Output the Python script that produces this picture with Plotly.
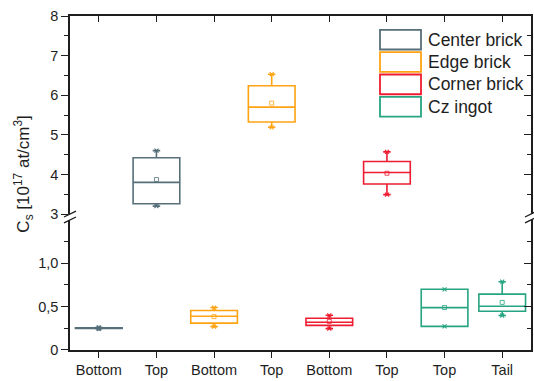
import plotly.graph_objects as go

# ---------------- data ----------------
positions = [1, 2, 3, 4, 5, 6, 7, 8]
x_labels = ["Bottom", "Top", "Bottom", "Top", "Bottom", "Top", "Top", "Tail"]

series_names = ["Center brick", "Edge brick", "Corner brick", "Cz ingot"]
series_colors = ["#566f79", "#ffa312", "#ee1c30", "#27a482"]

center_x = [1, 2]
center_min = [0.245, 3.20]
center_q1 = [0.248, 3.26]
center_med = [0.252, 3.80]
center_q3 = [0.256, 4.42]
center_max = [0.260, 4.60]
center_mean = [0.250, 3.87]

edge_x = [3, 4]
edge_min = [0.27, 5.19]
edge_q1 = [0.31, 5.325]
edge_med = [0.39, 5.70]
edge_q3 = [0.455, 6.24]
edge_max = [0.49, 6.53]
edge_mean = [0.385, 5.80]

corner_x = [5, 6]
corner_min = [0.246, 3.49]
corner_q1 = [0.284, 3.76]
corner_med = [0.32, 4.05]
corner_q3 = [0.367, 4.325]
corner_max = [0.40, 4.57]
corner_mean = [0.33, 4.03]

cz_x = [7, 8]
cz_min = [0.273, 0.398]
cz_q1 = [0.273, 0.447]
cz_med = [0.489, 0.504]
cz_q3 = [0.700, 0.644]
cz_max = [0.700, 0.788]
cz_mean = [0.490, 0.549]

low_ticks = [0, 0.5, 1.0]
low_ticktext = ["0", "0,5", "1,0"]
low_minor = [0.25, 0.75, 1.25]
high_ticks = [3, 4, 5, 6, 7, 8]
high_ticktext = ["3", "4", "5", "6", "7", "8"]
high_minor = [3.5, 4.5, 5.5, 6.5, 7.5]

# ---------------- figure ----------------
FONT = "Liberation Sans, Arial, sans-serif"
TXT = "#1e1e1e"
AX = "#1e1e1e"
BREAK = 3.0

groups = [
    (center_x, center_min, center_q1, center_med, center_q3, center_max, center_mean),
    (edge_x, edge_min, edge_q1, edge_med, edge_q3, edge_max, edge_mean),
    (corner_x, corner_min, corner_q1, corner_med, corner_q3, corner_max, corner_mean),
    (cz_x, cz_min, cz_q1, cz_med, cz_q3, cz_max, cz_mean),
]

fig = go.Figure()
for (xs, mn, q1, md, q3, mx, mean), color in zip(groups, series_colors):
    for i in range(len(xs)):
        ax = "y2" if q1[i] >= BREAK else "y"
        fig.add_trace(go.Box(
            x=[xs[i]], q1=[q1[i]], median=[md[i]], q3=[q3[i]],
            lowerfence=[mn[i]], upperfence=[mx[i]],
            width=0.81, whiskerwidth=0.16,
            line=dict(color=color, width=1.6),
            fillcolor="rgba(0,0,0,0)", boxpoints=False,
            showlegend=False, hoverinfo="skip", yaxis=ax,
        ))
        fig.add_trace(go.Scatter(
            x=[xs[i]], y=[mean[i]], mode="markers",
            marker=dict(symbol="square-open", size=4, color=color,
                        line=dict(width=0.8, color=color)),
            showlegend=False, hoverinfo="skip", yaxis=ax,
        ))
        fig.add_trace(go.Scatter(
            x=[xs[i], xs[i]], y=[mn[i], mx[i]], mode="markers",
            marker=dict(symbol="x-thin", size=4, color=color,
                        line=dict(width=1.1, color=color)),
            showlegend=False, hoverinfo="skip", yaxis=ax,
        ))

# plot area geometry (pixels)
W, H = 534, 381
L, R, T, B = 70, 3, 16, 26
pw, ph = W - L - R, H - T - B
bot_top_px = 223   # top of lower section
top_bot_px = 217   # bottom of upper section
low_dom = [0, (H - B - bot_top_px) / ph]
high_dom = [(H - B - top_bot_px) / ph, 1]

common_y = dict(showline=True, linecolor=AX, linewidth=1.5, showgrid=False,
                zeroline=False, tickfont=dict(family=FONT, size=14.5, color=TXT),
                tickcolor=AX, tickwidth=1.3)

fig.update_layout(
    width=W, height=H,
    margin=dict(l=L, r=R, t=T, b=B),
    paper_bgcolor="white", plot_bgcolor="white",
    showlegend=False,
    xaxis=dict(range=[0.5, 8.5], tickvals=positions, ticktext=x_labels,
               showline=True, linecolor=AX, linewidth=1.5, showgrid=False,
               zeroline=False, ticks="outside", ticklen=6, tickcolor=AX, tickwidth=1.3,
               tickfont=dict(family=FONT, size=14.5, color=TXT), anchor="y"),
    xaxis2=dict(range=[0.5, 8.5], tickvals=positions, overlaying="x", side="top",
                anchor="y2", showline=True, linecolor=AX, linewidth=1.5,
                showgrid=False, zeroline=False, ticks="inside", ticklen=6,
                tickcolor=AX, tickwidth=1.3, showticklabels=False),
    yaxis=dict(domain=low_dom, range=[0, 1.5], tickvals=low_ticks, ticktext=low_ticktext,
               ticks="outside", ticklen=7,
               minor=dict(tickvals=low_minor, ticks="outside", ticklen=4,
                          tickcolor=AX, tickwidth=1.3),
               anchor="x", **common_y),
    yaxis2=dict(domain=high_dom, range=[3, 8], tickvals=high_ticks, ticktext=high_ticktext,
                ticks="outside", ticklen=7,
                minor=dict(tickvals=high_minor, ticks="outside", ticklen=4,
                           tickcolor=AX, tickwidth=1.3),
                anchor="x", **common_y),
    yaxis3=dict(overlaying="y2", side="right", anchor="x", range=[3, 8],
                tickvals=high_ticks, ticks="inside", ticklen=7, showticklabels=False,
                minor=dict(tickvals=high_minor, ticks="inside", ticklen=4,
                           tickcolor=AX, tickwidth=1.3),
                showline=True, linecolor=AX, linewidth=1.5, showgrid=False,
                zeroline=False, tickcolor=AX, tickwidth=1.3),
    yaxis4=dict(overlaying="y", side="right", anchor="x", range=[0, 1.5],
                tickvals=low_ticks, ticks="inside", ticklen=7, showticklabels=False,
                minor=dict(tickvals=low_minor, ticks="inside", ticklen=4,
                           tickcolor=AX, tickwidth=1.3),
                showline=True, linecolor=AX, linewidth=1.5, showgrid=False,
                zeroline=False, tickcolor=AX, tickwidth=1.3),
)

# dummy traces so overlay axes are drawn
fig.add_trace(go.Scatter(x=[None], y=[None], xaxis="x2", yaxis="y3",
                         showlegend=False, hoverinfo="skip"))
fig.add_trace(go.Scatter(x=[None], y=[None], xaxis="x", yaxis="y4",
                         showlegend=False, hoverinfo="skip"))


def px2paper(x, y):
    return (x - L) / pw, (H - B - y) / ph


# axis break marks
for bx in (L, W - R):
    for dy in (0, 6):
        x0, y0 = px2paper(bx - 6, 220 + dy)
        x1, y1 = px2paper(bx + 6, 214 + dy)
        fig.add_shape(type="line", xref="paper", yref="paper",
                      x0=x0, y0=y0, x1=x1, y1=y1,
                      line=dict(color=AX, width=1.3))

# y axis title
tx, ty = px2paper(24, 177)
fig.add_annotation(xref="paper", yref="paper", x=tx, y=ty, textangle=-90,
                   text="C<sub>s</sub> [10<sup>17</sup> at/cm<sup>3</sup>]",
                   showarrow=False, xanchor="center", yanchor="middle",
                   font=dict(family=FONT, size=17, color=TXT))

# legend (open rectangles)
for k, (name, color) in enumerate(zip(series_names, series_colors)):
    yc = 40 + k * 22.7
    x0, y0 = px2paper(380, yc + 10)
    x1, y1 = px2paper(421, yc - 10)
    fig.add_shape(type="rect", xref="paper", yref="paper",
                  x0=x0, y0=y0, x1=x1, y1=y1,
                  line=dict(color=color, width=1.8), fillcolor="rgba(0,0,0,0)")
    lx, ly = px2paper(426, yc)
    fig.add_annotation(xref="paper", yref="paper", x=lx, y=ly, text=name,
                       showarrow=False, xanchor="left", yanchor="middle",
                       font=dict(family=FONT, size=17.5, color=TXT))

fig.write_html("out.html", config={"displayModeBar": False},
               post_script="document.body.style.margin='0';document.body.style.overflow='hidden';")
